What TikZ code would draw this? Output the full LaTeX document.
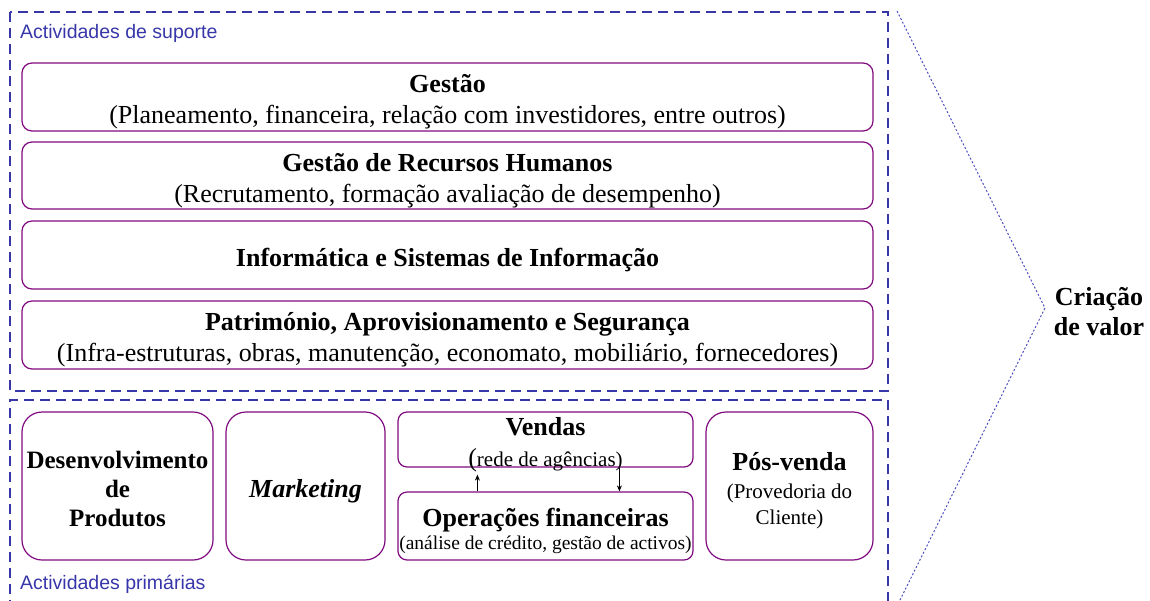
\documentclass[tikz,border=0pt]{standalone}
\usepackage{fontspec}
\setmainfont{Liberation Serif}
\setsansfont{Liberation Sans}
\usepackage{tikz}
\usetikzlibrary{arrows.meta}
\usepackage{xcolor}
\definecolor{boxpurple}{RGB}{128,10,128}
\definecolor{dashblue}{RGB}{55,55,170}
\definecolor{dotblue}{RGB}{80,80,190}
\newcommand{\topstrut}{\rule{0pt}{28pt}}
\newcommand{\smalltxt}[1]{{\fontsize{21}{25}\selectfont\mdseries #1}}
\newcommand{\tinytxt}[1]{{\fontsize{19.5}{24}\selectfont\mdseries #1}}
\tikzset{
  actbox/.style={draw=boxpurple,line width=1.2pt,rounded corners=10pt,inner sep=0pt,
    align=center,font=\fontsize{26}{31}\selectfont\bfseries},
  tallbox/.style={actbox,rounded corners=20pt,minimum height=148},
  grouplabel/.style={anchor=west,inner sep=0pt,text=dashblue,font=\sffamily\fontsize{19.5}{23}\selectfont},
  groupline/.style={draw=dashblue,line width=1.8pt,dash pattern=on 10pt off 6pt}
}

\begin{document}
\begin{tikzpicture}[x=1pt,y=-1pt,>={Stealth[length=6pt,width=5pt]}]
        \useasboundingbox (0,0) rectangle (1150,600);
        % background
        \draw[groupline] (10,12) rectangle (888,391);
        \draw[groupline] (10,610) -- (10,400) -- (888,400) -- (888,610);
        \draw[dotblue,line width=1pt,dash pattern=on 2pt off 2pt] (897,11) -- (1045,308) -- (899,602);
        \node[grouplabel] (sup) at (20,33) {Actividades de suporte};
        \node[grouplabel] (pri) at (20,584) {Actividades primárias};
        % support activities
        \node[actbox,minimum width=851,minimum height=68] (ges) at (447.5,97)
                {\topstrut Gestão\\\smalltxt{\fontsize{26}{31}\selectfont(Planeamento, financeira, relação com investidores, entre outros)}};
        \node[actbox,minimum width=851,minimum height=67] (grh) at (447.5,175.5)
                {\topstrut Gestão de Recursos Humanos\\\smalltxt{\fontsize{26}{31}\selectfont(Recrutamento, formação avaliação de desempenho)}};
        \node[actbox,minimum width=851,minimum height=68] (inf) at (447.5,255)
                {\topstrut Informática e Sistemas de Informação};
        \node[actbox,minimum width=851,minimum height=68] (pat) at (447.5,335)
                {\topstrut Património, Aprovisionamento e Segurança\\\smalltxt{\fontsize{26}{31}\selectfont(Infra-estruturas, obras, manutenção, economato, mobiliário, fornecedores)}};
        % primary activities
        \node[tallbox,minimum width=191,font=\fontsize{25}{29}\selectfont\bfseries] (dev) at (117.5,486)
                {\rule{0pt}{24pt}Desenvolvimento\\de\\Produtos};
        \node[tallbox,minimum width=159] (mkt) at (305.5,486) {\topstrut\textit{Marketing}};
        \node[actbox,minimum width=295,minimum height=55,inner ysep=-6pt,rounded corners=9pt] (vnd) at (545.5,439.5)
                {\topstrut Vendas\\{\mdseries(}\smalltxt{rede de agências)}};
        \node[actbox,minimum width=295,minimum height=68,rounded corners=9pt] (ops) at (545.5,526)
                {\topstrut Operações financeiras\\[-8pt]\tinytxt{(análise de crédito, gestão de activos)}};
        \node[tallbox,minimum width=167] (pos) at (789.5,486)
                {\topstrut Pós-venda\\[-3pt]\smalltxt{(Provedoria do}\\[-5pt]\smalltxt{Cliente)}};
        \draw[->,line width=.9pt,shorten >=7pt] ([xshift=80pt]ops.north west) -- ([xshift=80pt]vnd.south west);
        \draw[->,line width=.9pt] ([xshift=222pt]vnd.south west) -- ([xshift=222pt]ops.north west);
        \node[align=center,inner sep=0pt,font=\fontsize{26}{30}\selectfont\bfseries] (val) at (1099,312) {Criação\\de valor};
      \end{tikzpicture}
\end{document}
